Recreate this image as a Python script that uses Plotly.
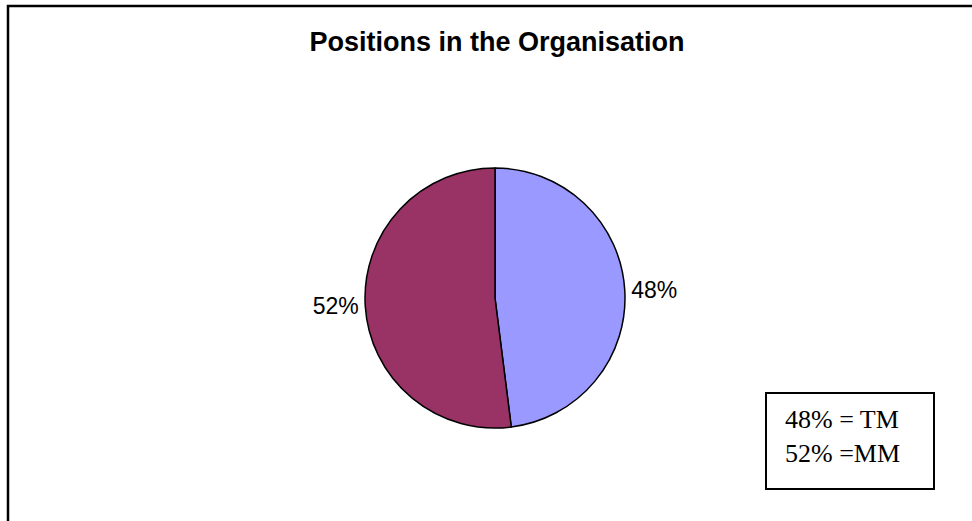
import plotly.graph_objects as go

labels = ["TM", "MM"]
values = [48, 52]
colors = ["#9999FF", "#993366"]
legend_lines = ["48% = TM", "52% =MM"]
title_text = "Positions in the Organisation"

W, H = 972, 521
cx, cy, r = 495, 298, 130

fig = go.Figure()
fig.add_trace(go.Pie(
    labels=labels,
    values=values,
    sort=False,
    direction="clockwise",
    rotation=0,
    marker=dict(colors=colors, line=dict(color="black", width=1.5)),
    textinfo="percent",
    texttemplate="%{percent:.0%}",
    textposition="outside",
    outsidetextfont=dict(family="Liberation Sans, Arial", size=23, color="black"),
    showlegend=False,
    hoverinfo="label+percent",
    domain=dict(x=[(cx - r) / W, (cx + r) / W], y=[(H - cy - r) / H, (H - cy + r) / H]),
))

fig.update_layout(
    width=W, height=H,
    margin=dict(l=0, r=0, t=0, b=0),
    paper_bgcolor="white",
    plot_bgcolor="white",
    title=dict(
        text="<b>" + title_text + "</b>",
        x=497 / W, y=1 - 42 / H, xanchor="center", yanchor="middle",
        font=dict(family="Liberation Sans, Arial", size=27, color="black"),
    ),
    shapes=[
        dict(type="rect", xref="paper", yref="paper",
             x0=8 / W, x1=1.02, y0=-0.02, y1=1 - 6 / H,
             line=dict(color="black", width=2.5), fillcolor="rgba(0,0,0,0)"),
        dict(type="rect", xref="paper", yref="paper",
             x0=766 / W, x1=934 / W, y0=1 - 489 / H, y1=1 - 393 / H,
             line=dict(color="black", width=2), fillcolor="white"),
    ],
    annotations=[
        dict(text="<br>".join(legend_lines), xref="paper", yref="paper",
             x=783 / W, y=1 - 436 / H, xanchor="left", yanchor="middle",
             align="left", showarrow=False,
             font=dict(family="Liberation Serif, Times New Roman", size=26, color="black")),
    ],
)

fig.write_html("out.html")
